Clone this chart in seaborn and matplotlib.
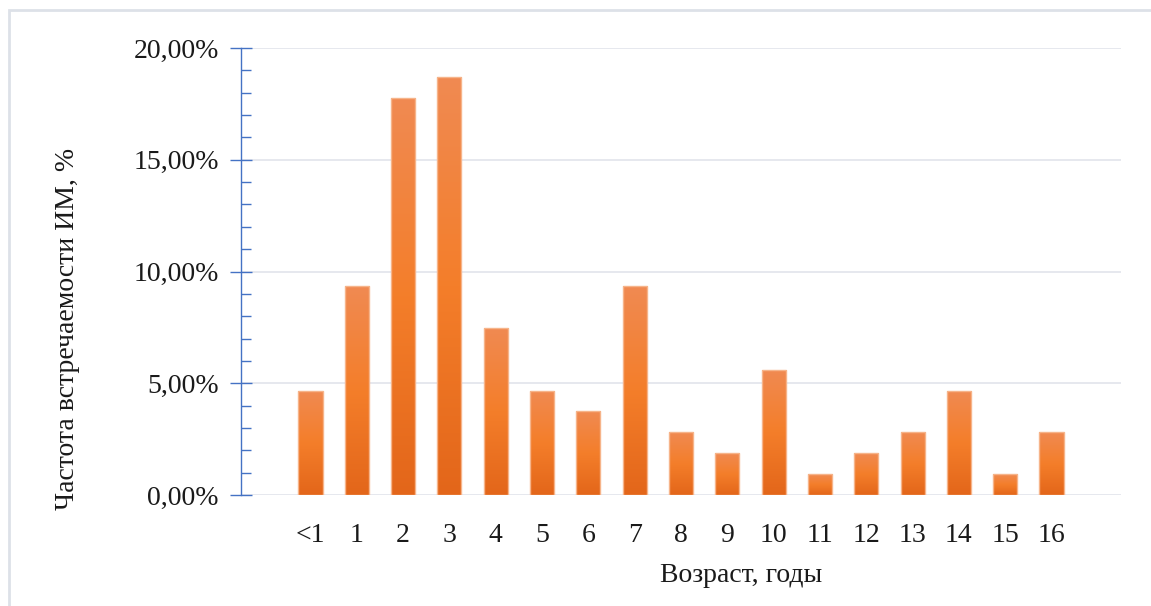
import numpy as np
import pandas as pd
import matplotlib
matplotlib.use("Agg")
import matplotlib.pyplot as plt
from matplotlib.colors import LinearSegmentedColormap
from matplotlib.ticker import MultipleLocator, FuncFormatter
from matplotlib.patches import Rectangle
import seaborn as sns

# Age groups and share of cases (%)
ages = ["<1", "1", "2", "3", "4", "5", "6", "7", "8", "9", "10",
        "11", "12", "13", "14", "15", "16"]
share = [4.67, 9.35, 17.76, 18.69, 7.48, 4.67, 3.74, 9.35, 2.80, 1.87,
         5.61, 0.93, 1.87, 2.80, 4.67, 0.93, 2.80]

x_title = "Возраст, годы"
y_title = "Частота встречаемости ИМ, %"

df = pd.DataFrame({"age": ages, "share": share})

sns.set_theme(style="white")
plt.rcParams["font.family"] = ["Liberation Serif", "DejaVu Serif"]

fig = plt.figure(figsize=(11.51, 6.06), dpi=100)
ax = fig.add_axes([241 / 1151, 1 - 495 / 606, 880 / 1151, 447 / 606])

sns.barplot(data=df, x="age", y="share", ax=ax, width=0.52,
            color="#F07F2C", edgecolor="#F6B48A", linewidth=1.0, zorder=3)

ax.set_xlim(-1.5, 17.5)
ax.set_ylim(0, 20)

# vertical orange gradient inside each bar
grad = LinearSegmentedColormap.from_list(
    "bar_grad", ["#E3661A", "#F47E2A", "#F08A52"])
gimg = np.linspace(0, 1, 256).reshape(-1, 1)
for p in ax.patches:
    x0, y0 = p.get_x(), p.get_y()
    w, h = p.get_width(), p.get_height()
    im = ax.imshow(gimg, cmap=grad, origin="lower", aspect="auto",
                   extent=[x0, x0 + w, y0, y0 + h], zorder=3.5)
    im.set_clip_path(p)
    p.set_facecolor("none")
    p.set_zorder(4)

# grid and spines
ax.yaxis.set_major_locator(MultipleLocator(5))
ax.yaxis.set_minor_locator(MultipleLocator(1))
ax.grid(axis="y", which="major", color="#E1E4EB", linewidth=1.2, zorder=0)
ax.set_axisbelow(True)
for s in ["top", "right", "bottom"]:
    ax.spines[s].set_visible(False)
ax.spines["left"].set_color("#4472C4")
ax.spines["left"].set_linewidth(1.0)

ax.yaxis.set_major_formatter(FuncFormatter(lambda v, _: f"{v:.2f}%".replace(".", ",")))
ax.tick_params(axis="y", which="major", direction="inout", length=16, width=1.0,
               color="#4472C4", labelsize=20, pad=8, left=True)
ax.tick_params(axis="y", which="minor", direction="in", length=7, width=1.0,
               color="#4472C4", left=True)
ax.tick_params(axis="x", length=0, labelsize=20, pad=20)
for t in ax.get_xticklabels() + ax.get_yticklabels():
    t.set_color("#1A1A1A")

ax.set_xlabel("")
ax.set_ylabel("")
fig.text(741 / 1151, 1 - 575 / 606, x_title, ha="center", va="center",
         fontsize=20, color="#1A1A1A")
fig.text(68 / 1151, 1 - 329 / 606, y_title, ha="center", va="center",
         rotation=90, fontsize=20, color="#1A1A1A")

# light frame around the chart area
fig.patches.append(Rectangle((8.5 / 1151, -0.05), 1.2, 1 - 10 / 606 + 0.05,
                             transform=fig.transFigure, fill=False,
                             edgecolor="#DDE1E8", linewidth=2))

fig.savefig("out.png", dpi=100)
